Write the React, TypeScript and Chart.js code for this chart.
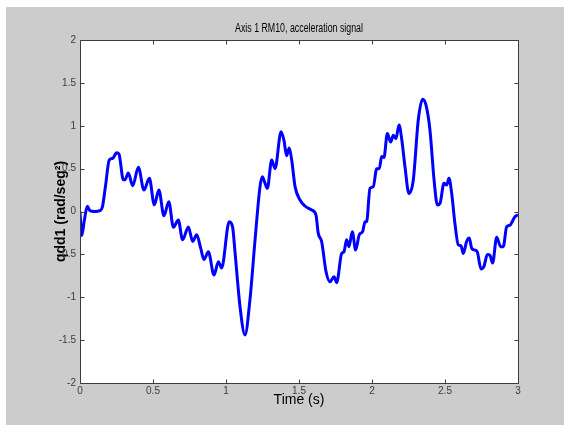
import React, { useEffect, useRef } from 'react';
import { Chart, registerables } from 'chart.js';

Chart.register(...registerables);

// Time axis (s) of the sampled acceleration signal
const timeS = [
  0.0, 0.012, 0.03, 0.05, 0.068, 0.1, 0.137, 0.153, 0.175, 0.2, 0.224, 0.251, 0.267, 0.297, 0.308,
  0.331, 0.361, 0.4, 0.438, 0.475, 0.509, 0.54, 0.575, 0.608, 0.64, 0.673, 0.703, 0.742, 0.772,
  0.799, 0.827, 0.849, 0.879, 0.918, 0.948, 0.97, 1.022, 1.045, 1.062, 1.096, 1.13, 1.164, 1.199,
  1.233, 1.249, 1.267, 1.283, 1.313, 1.336, 1.377, 1.397, 1.415, 1.433, 1.45, 1.473, 1.507, 1.541,
  1.587, 1.616, 1.632, 1.655, 1.685, 1.712, 1.74, 1.758, 1.792, 1.808, 1.826, 1.842, 1.865, 1.888,
  1.913, 1.936, 1.952, 1.963, 1.986, 2.009, 2.032, 2.05, 2.066, 2.082, 2.105, 2.128, 2.146, 2.164,
  2.185, 2.203, 2.226, 2.253, 2.283, 2.317, 2.347, 2.37, 2.397, 2.425, 2.448, 2.466, 2.493, 2.512,
  2.527, 2.546, 2.568, 2.591, 2.61, 2.625, 2.648, 2.666, 2.683, 2.705, 2.721, 2.747, 2.767, 2.79,
  2.808, 2.826, 2.854, 2.881, 2.899, 2.922, 2.945, 2.979, 3.0,
];

// Joint 1 acceleration qdd1 (rad/seg^2)
const qdd1 = [
  0.0, -0.28, -0.1, 0.06, 0.01, 0.0, 0.01, 0.05, 0.3, 0.6, 0.62, 0.686, 0.67, 0.37, 0.37,
  0.45, 0.3, 0.515, 0.25, 0.387, 0.076, 0.25, -0.05, 0.115, -0.185, -0.1, -0.33, -0.18, -0.35,
  -0.27, -0.43, -0.56, -0.47, -0.74, -0.585, -0.66, -0.12, -0.18, -0.48, -1.11, -1.44, -1.03, -0.33,
  0.29, 0.405, 0.33, 0.27, 0.6, 0.5, 0.93, 0.83, 0.65, 0.74, 0.6, 0.29, 0.134, 0.064,
  0.017, -0.04, -0.255, -0.35, -0.7, -0.82, -0.76, -0.83, -0.49, -0.47, -0.33, -0.41, -0.235, -0.45,
  -0.27, -0.235, -0.12, -0.12, 0.27, 0.29, 0.5, 0.5, 0.64, 0.63, 0.91, 0.81, 0.89, 0.85,
  1.01, 0.85, 0.52, 0.21, 0.37, 1.07, 1.31, 1.24, 0.95, 0.37, 0.076, 0.096, 0.33, 0.31,
  0.387, 0.21, -0.14, -0.39, -0.4, -0.49, -0.35, -0.31, -0.43, -0.45, -0.47, -0.67, -0.64, -0.5,
  -0.51, -0.6, -0.3, -0.41, -0.41, -0.18, -0.16, -0.06, -0.04,
];

const xTicks = [0, 0.5, 1, 1.5, 2, 2.5, 3];
const yTicks = [-2, -1.5, -1, -0.5, 0, 0.5, 1, 1.5, 2];

const TITLE = 'Axis 1 RM10, acceleration signal';

const FIG_BG = '#cccccc';
const AXIS_COLOR = '#3c3c3c';
const SANS = "'Liberation Sans', Arial, Helvetica, sans-serif";

// Figure background, white axes, box and inward tick marks on all four sides
const axesFrame = {
  id: 'axesFrame',
  beforeDraw(chart: any) {
    const { ctx, chartArea: a, width, height } = chart;
    ctx.save();
    ctx.fillStyle = FIG_BG;
    ctx.fillRect(0, 0, width, height);
    ctx.fillStyle = '#ffffff';
    ctx.fillRect(a.left, a.top, a.right - a.left, a.bottom - a.top);
    ctx.restore();
  },
  afterDatasetsDraw(chart: any) {
    const { ctx, chartArea: a, scales } = chart;
    const L = Math.round(a.left) + 0.5;
    const R = Math.round(a.right) + 0.5;
    const T = Math.round(a.top) + 0.5;
    const B = Math.round(a.bottom) + 0.5;
    const len = 4;
    ctx.save();
    ctx.strokeStyle = AXIS_COLOR;
    ctx.lineWidth = 1;
    ctx.beginPath();
    ctx.rect(L, T, R - L, B - T);
    for (const t of scales.x.ticks) {
      const px = Math.round(scales.x.getPixelForValue(t.value)) + 0.5;
      ctx.moveTo(px, B);
      ctx.lineTo(px, B - len);
      ctx.moveTo(px, T);
      ctx.lineTo(px, T + len);
    }
    for (const t of scales.y.ticks) {
      const py = Math.round(scales.y.getPixelForValue(t.value)) + 0.5;
      ctx.moveTo(L, py);
      ctx.lineTo(L + len, py);
      ctx.moveTo(R, py);
      ctx.lineTo(R - len, py);
    }
    ctx.stroke();

    // Narrow title centred over the axes
    const cx = (a.left + a.right) / 2;
    ctx.font = `12px ${SANS}`;
    ctx.fillStyle = '#000000';
    ctx.textAlign = 'center';
    ctx.textBaseline = 'middle';
    ctx.translate(cx, a.top - 11);
    ctx.scale(0.735, 1);
    ctx.fillText(TITLE, 0, 0);
    ctx.restore();
  },
};

export default function App() {
  const ref = useRef<HTMLCanvasElement>(null);

  useEffect(() => {
    document.body.style.margin = '0';
    const points = timeS.map((t, i) => ({ x: t, y: qdd1[i] }));
    const chart = new Chart(ref.current!, {
      type: 'line',
      data: {
        datasets: [
          {
            data: points,
            borderColor: '#0000ff',
            borderWidth: 3,
            pointRadius: 0,
            fill: false,
            cubicInterpolationMode: 'monotone',
          },
        ],
      },
      options: {
        animation: false,
        responsive: false,
        devicePixelRatio: 1,
        layout: { padding: { top: 33, left: 0, right: 46, bottom: 0 } },
        plugins: {
          legend: { display: false },
          tooltip: { enabled: false },
          title: { display: false },
        },
        scales: {
          x: {
            type: 'linear',
            min: 0,
            max: 3,
            afterBuildTicks: (s: any) => {
              s.ticks = xTicks.map((v) => ({ value: v }));
            },
            afterFit: (s: any) => {
              s.height = 42;
            },
            grid: { display: false, drawTicks: false },
            border: { display: false },
            ticks: {
              color: AXIS_COLOR,
              font: { family: SANS, size: 10 },
              padding: 2,
              maxRotation: 0,
              autoSkip: false,
              callback: (v: any) => String(Number(v)),
            },
            title: {
              display: true,
              text: 'Time (s)',
              color: '#000000',
              font: { family: SANS, size: 14, lineHeight: 1.2 },
              padding: { top: 0, bottom: 16.6 },
            },
          },
          y: {
            type: 'linear',
            min: -2,
            max: 2,
            afterBuildTicks: (s: any) => {
              s.ticks = yTicks.map((v) => ({ value: v }));
            },
            afterFit: (s: any) => {
              s.width = 74;
            },
            grid: { display: false, drawTicks: false },
            border: { display: false },
            ticks: {
              color: AXIS_COLOR,
              font: { family: SANS, size: 10 },
              padding: 4,
              autoSkip: false,
              callback: (v: any) => String(Number(v)),
            },
            title: {
              display: true,
              text: 'qdd1 (rad/seg²)',
              color: '#000000',
              font: { family: SANS, size: 14, weight: 'bold', lineHeight: 1.2 },
              padding: { top: 47, bottom: 0 },
            },
          },
        },
      },
      plugins: [axesFrame],
    });
    return () => chart.destroy();
  }, []);

  return (
    <div style={{ position: 'relative', width: 564, height: 425, background: '#ffffff', overflow: 'hidden' }}>
      <div style={{ position: 'absolute', left: 6, top: 7, width: 558, height: 418 }}>
        <canvas ref={ref} width={558} height={418} style={{ display: 'block', width: 558, height: 418 }} />
      </div>
    </div>
  );
}
